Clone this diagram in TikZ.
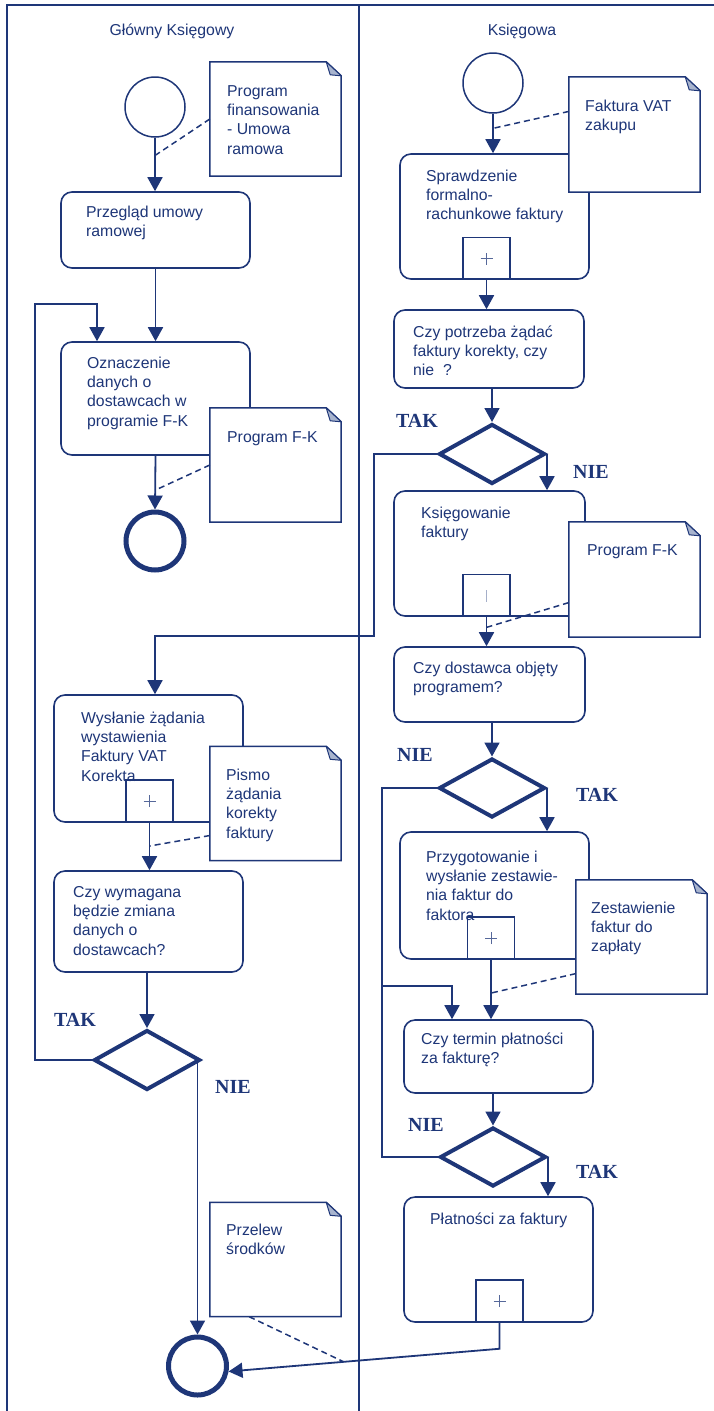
\documentclass[tikz,border=0pt]{standalone}
\usepackage{fontspec}
\setmainfont{Liberation Sans}
\newfontfamily\labelfont{Liberation Serif}
\usetikzlibrary{shapes.geometric,arrows.meta,calc}
\definecolor{navy}{RGB}{30,54,120}
\definecolor{foldc}{RGB}{168,180,206}

% multi-line label whose reference point is the first baseline
\newcommand\txtlines[1]{\begin{tabular}[t]{@{}l@{}}#1\end{tabular}}

\tikzset{
  every node/.style={text=navy},
  task/.style={draw=navy, line width=1.6pt, rounded corners=11pt, fill=white, inner sep=0pt},
  marker/.style={draw=navy, line width=1.5pt, minimum width=47pt, minimum height=42pt, inner sep=0pt},
  plus/.style={path picture={
      \draw[navy!75, line width=0.9pt]
        ([xshift=-6pt]path picture bounding box.center) -- ([xshift=6pt]path picture bounding box.center)
        ([yshift=-6pt]path picture bounding box.center) -- ([yshift=6pt]path picture bounding box.center);}},
  bar/.style={path picture={
      \draw[navy!40, line width=0.9pt]
        ([yshift=-6pt]path picture bounding box.center) -- ([yshift=6pt]path picture bounding box.center);}},
  note/.style={fill=white, inner sep=0pt, minimum width=131pt, minimum height=114pt},
  startev/.style={circle, draw=navy, line width=1.5pt, minimum size=60pt, inner sep=0pt},
  endev/.style={circle, draw=navy, line width=5pt, minimum size=58pt, inner sep=0pt},
  gate/.style={diamond, draw=navy, line width=4pt, minimum width=106pt, minimum height=60pt, inner sep=0pt},
  txt/.style={anchor=base west, inner sep=0pt, font=\fontsize{15.8}{19.4}\selectfont},
  lbl/.style={anchor=center, inner sep=0pt, font=\labelfont\bfseries\fontsize{20}{20}\selectfont},
  flow/.style={draw=navy, line width=1.8pt, -{Triangle[width=15pt,length=14pt]}},
  plain/.style={draw=navy, line width=1.8pt},
  assoc/.style={draw=navy, line width=1.5pt, dash pattern=on 6pt off 4pt},
  lane/.style={draw=navy, line width=2pt}
}

\newcommand\foldnote[1]{%
  \draw[navy, line width=1.5pt, line join=miter]
    (#1.south west) -- (#1.north west) -- ([xshift=-15pt]#1.north east)
    -- ([yshift=-14pt]#1.north east) -- (#1.south east) -- cycle;
  \filldraw[fill=foldc, draw=navy, line width=1pt, line join=round]
    ([xshift=-15pt]#1.north east) -- ([yshift=-14pt]#1.north east)
    -- ([xshift=-11pt,yshift=-13pt]#1.north east) -- cycle;}

\begin{document}
\begin{tikzpicture}[x=1pt, y=-1pt]
\useasboundingbox (0,0) rectangle (714,1411);

% swimlanes
\draw[lane] (7,1411) -- (7,5) -- (714,5);
\draw[lane, line width=1.5pt] (359,5) -- (359,1411);
\node[txt, anchor=base] (lane1) at (172,35) {Główny Księgowy};
\node[txt, anchor=base] (lane2) at (522,35) {Księgowa};

% ---------- left lane ----------
\node[startev] (s1) at (155,107) {};
\node[task, minimum width=189pt, minimum height=76pt] (b1) at (155.5,230) {};
\node[txt] (tb1) at (86,217) {\txtlines{Przegląd umowy\\ramowej}};
\node[note] (n1) at (275.5,119) {};
\foldnote{n1}
\node[txt] (tn1) at (227,96) {\txtlines{Program\\finansowania\\- Umowa\\ramowa}};

\node[task, minimum width=189pt, minimum height=113pt] (ozn) at (155.5,398.5) {};
\node[txt] (tozn) at (87,368) {\txtlines{Oznaczenie\\danych o\\dostawcach w\\programie F-K}};
\node[note] (n2) at (275.5,465) {};
\foldnote{n2}
\node[txt] (tn2) at (227,442) {Program F-K};
\node[endev] (e1) at (155,541) {};

\node[task, minimum width=189pt, minimum height=127pt] (wys) at (148.5,758.5) {};
\node[txt] (twys) at (81,723) {\txtlines{Wysłanie żądania\\wystawienia\\Faktury VAT\\Korekta}};
\node[marker, plus] (mwys) at (149.5,801) {};
\node[note] (n3) at (275.5,803.5) {};
\foldnote{n3}
\node[txt] (tn3) at (226,780) {\txtlines{Pismo\\żądania\\korekty\\faktury}};

\node[task, minimum width=189pt, minimum height=101pt] (cw) at (148.5,921.5) {};
\node[txt] (tcw) at (73,897) {\txtlines{Czy wymagana\\będzie zmiana\\danych o\\dostawcach?}};
\node[gate] (dL) at (147,1060) {};
\node[lbl] (takL) at (75,1020) {TAK};
\node[lbl] (nieL) at (233,1087) {NIE};

\node[note] (n4) at (275.5,1259.5) {};
\foldnote{n4}
\node[txt] (tn4) at (226,1235) {\txtlines{Przelew\\środków}};
\node[endev] (e2) at (197.5,1366) {};

% ---------- right lane ----------
\node[startev] (s2) at (493,83) {};
\node[task, minimum width=189pt, minimum height=125pt] (spr) at (494.5,216.5) {};
\node[txt] (tspr) at (426,181) {\txtlines{Sprawdzenie\\formalno-\\rachunkowe faktury}};
\node[marker, plus] (mspr) at (486.5,258.5) {};
\node[note, minimum height=115pt] (n5) at (634.5,134.5) {};
\foldnote{n5}
\node[txt] (tn5) at (585,111) {\txtlines{Faktura VAT\\zakupu}};

\node[task, minimum width=190pt, minimum height=78pt] (cp) at (489,349) {};
\node[txt] (tcp) at (413,337) {\txtlines{Czy potrzeba żądać\\faktury korekty, czy\\nie\ \ ?}};
\node[gate] (d1) at (492,454) {};
\node[lbl] (tak1) at (417,421) {TAK};
\node[lbl] (nie1) at (591,472) {NIE};

\node[task, minimum width=191pt, minimum height=125pt] (ks) at (489.5,553.5) {};
\node[txt] (tks) at (421,518) {\txtlines{Księgowanie\\faktury}};
\node[marker, bar] (mks) at (486.5,595.5) {};
\node[note, minimum height=115pt] (n6) at (634.5,579.5) {};
\foldnote{n6}
\node[txt] (tn6) at (587,555) {Program F-K};

\node[task, minimum width=191pt, minimum height=75pt] (cd) at (489.5,684.5) {};
\node[txt] (tcd) at (413,673) {\txtlines{Czy dostawca objęty\\programem?}};
\node[gate, minimum height=59pt] (d2) at (492,788) {};
\node[lbl] (nie2) at (415,755) {NIE};
\node[lbl] (tak2) at (597,795) {TAK};

\node[task, minimum width=189pt, minimum height=127pt] (prz) at (494.5,895.5) {};
\node[txt] (tprz) at (426,862) {\txtlines{Przygotowanie i\\wysłanie zestawie-\\nia faktur do\\faktora}};
\node[marker, plus] (mprz) at (491,938) {};
\node[note] (n7) at (641.5,937) {};
\foldnote{n7}
\node[txt] (tn7) at (591,913) {\txtlines{Zestawienie\\faktur do\\zapłaty}};

\node[task, minimum width=189pt, minimum height=73pt] (ct) at (498.5,1056.5) {};
\node[txt] (tct) at (421,1044) {\txtlines{Czy termin płatności\\za fakturę?}};
\node[gate, minimum height=59pt] (d3) at (493,1157) {};
\node[lbl] (nie3) at (426,1125) {NIE};
\node[lbl] (tak3) at (597,1172) {TAK};

\node[task, minimum width=189pt, minimum height=125pt] (pl) at (498.5,1259.5) {};
\node[txt] (tpl) at (430,1224) {Płatności za faktury};
\node[marker, plus] (mpl) at (499.5,1301) {};

% bend points of the loops
\coordinate (kL) at (35,304);
\coordinate (k1) at (374,636);
\coordinate (k3) at (382,986);
\coordinate (plb) at ($(mpl.south)+(0,26)$);

% ---------- sequence flows ----------
\draw[flow] (s1.south) -- (s1.south |- b1.north);
\draw[flow] (b1.south) -- (ozn.north);
\draw[flow] (ozn.south) -- (e1.north);
\draw[flow] (mwys.south) -- (mwys.south |- cw.north);
\draw[flow] (dL.north |- cw.south) -- (dL.north);
\draw[flow] (e2.north |- dL.east) -- (e2.north);
\draw[flow] (dL.west) -| (kL) -| ([xshift=-58.5pt]ozn.north);

\draw[flow] (s2.south) -- (s2.south |- spr.north);
\draw[flow] (mspr.south) -- (mspr.south |- cp.north);
\draw[flow] (d1.north |- cp.south) -- (d1.north);
\draw[flow] (d1.east) -- (d1.east |- ks.north);
\draw[flow] (d1.west) -| (k1) -| ([xshift=6.5pt]wys.north);
\draw[flow] (mks.south) -- (mks.south |- cd.north);
\draw[flow] (d2.north |- cd.south) -- (d2.north);
\draw[flow] (d2.east) -- (d2.east |- prz.north);
\draw[flow] (d2.west) -| (k3) -| ([xshift=-46.5pt]ct.north);
\draw[plain] (d3.west) -| (k3);
\draw[flow] (mprz.south) -- (mprz.south |- ct.north);
\draw[flow] (d3.north |- ct.south) -- (d3.north);
\draw[flow] (d3.east) -- (d3.east |- pl.north);
\draw[flow] (mpl.south) -- (plb) -- (e2.-10);

% ---------- associations ----------
\draw[assoc] (n1.west) -- ($(s1.south)!0.33!(b1.north)$);
\draw[assoc] (n2.west) -- ($(ozn.south)!0.64!(e1.north)$);
\draw[assoc] ($(n3.south west)!0.22!(n3.north west)$) -- ($(mwys.south)!0.49!(mwys.south |- cw.north)$);
\draw[assoc] ($(n4.south west)!0.3!(n4.south east)$) -- ($(plb)!0.575!(e2.-10)$);
\draw[assoc] ($(n5.north west)!0.3!(n5.south west)$) -- ($(s2.south)!0.37!(s2.south |- spr.north)$);
\draw[assoc] ($(n6.south west)!0.3!(n6.north west)$) -- ($(mks.south)!0.35!(mks.south |- cd.north)$);
\draw[assoc] ($(n7.south west)!0.18!(n7.north west)$) -- ($(mprz.south)!0.56!(mprz.south |- ct.north)$);
\end{tikzpicture}
\end{document}
